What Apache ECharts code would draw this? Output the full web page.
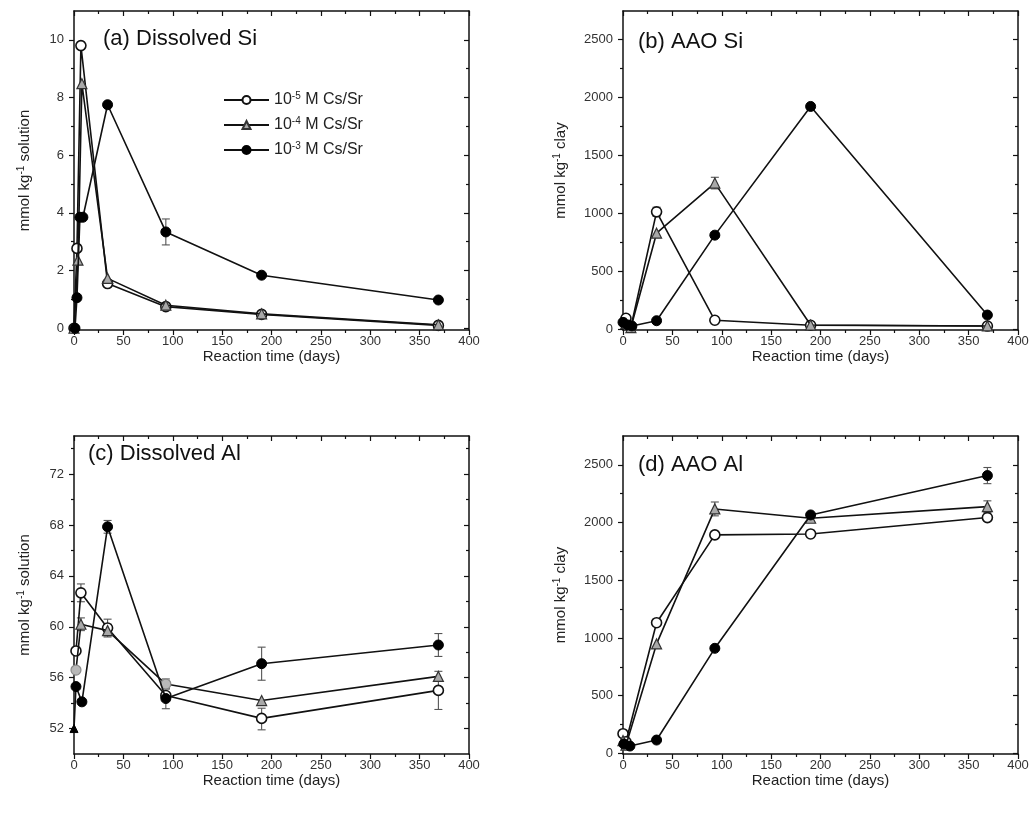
<!DOCTYPE html>
<html>
<head>
<meta charset="utf-8">
<script src="https://cdn.jsdelivr.net/npm/echarts@6/dist/echarts.min.js"></script>
<style>html,body{margin:0;padding:0;background:#fff}#c{width:1032px;height:813px}</style>
</head>
<body>
<div id="c"></div>
<script>
// ---------- data ----------
const seriesNames = ['10-5 M Cs/Sr', '10-4 M Cs/Sr', '10-3 M Cs/Sr'];
const xMajorTicks = [0, 50, 100, 150, 200, 250, 300, 350, 400];
const xMinorTicks = [25, 75, 125, 175, 225, 275, 325, 375];

// (a) Dissolved Si (mmol/kg solution)
const aOpenDays = [0, 3, 7, 34, 93, 190, 369];
const aOpenVals = [0, 2.77, 9.8, 1.55, 0.75, 0.48, 0.1];
const aTriDays = [0, 4, 8, 34, 93, 190, 369];
const aTriVals = [0, 2.36, 8.48, 1.73, 0.8, 0.5, 0.12];
const aFillDays = [1, 3, 6, 9, 34, 93, 190, 369];
const aFillVals = [0, 1.06, 3.85, 3.85, 7.75, 3.34, 1.84, 0.98];
const aErr = [[93, 2.89, 3.79]];
const aYMajor = [0, 2, 4, 6, 8, 10];
const aYMinor = [1, 3, 5, 7, 9];

// (b) AAO Si (mmol/kg clay)
const bOpenDays = [3, 8, 34, 93, 190, 369];
const bOpenVals = [95, 20, 1013, 78, 35, 28];
const bTriDays = [3, 8, 34, 93, 190, 369];
const bTriVals = [50, 15, 829, 1261, 37, 29];
const bFillDays = [0, 5, 9, 34, 93, 190, 369];
const bFillVals = [60, 37, 29, 74, 812, 1922, 123];
const bErr = [[34, 973, 1053], [93, 1211, 1311]];
const clayYMajor = [0, 500, 1000, 1500, 2000, 2500];
const clayYMinor = [250, 750, 1250, 1750, 2250];

// (c) Dissolved Al (mmol/kg solution)
const cOpenDays = [2, 7, 34, 93, 190, 369];
const cOpenVals = [58.1, 62.67, 59.9, 54.6, 52.8, 55.0];
const cTriDays = [2, 7, 34, 93, 190, 369];
const cTriVals = [56.6, 60.2, 59.7, 55.5, 54.2, 56.1];
const cFillDays = [0, 2, 8, 34, 93, 190, 369];
const cFillVals = [52.0, 55.3, 54.1, 67.86, 54.36, 57.1, 58.57];
const cErr = [[7, 61.97, 63.37], [7, 59.7, 60.7], [34, 59.3, 60.6], [34, 59.2, 60.2], [34, 67.36, 68.36],
  [93, 53.56, 55.16], [93, 55.1, 55.9], [190, 55.8, 58.4], [190, 51.9, 53.6], [369, 57.67, 59.47], [369, 53.5, 56.5]];
const cYMajor = [52, 56, 60, 64, 68, 72];
const cYMinor = [54, 58, 62, 66, 70, 74];

// (d) AAO Al (mmol/kg clay)
const dOpenDays = [0, 3, 34, 93, 190, 369];
const dOpenVals = [170, 100, 1132, 1893, 1901, 2043];
const dTriDays = [0, 3, 34, 93, 190, 369];
const dTriVals = [110, 70, 948, 2118, 2037, 2138];
const dFillDays = [1, 7, 34, 93, 190, 369];
const dFillVals = [80, 63, 115, 910, 2066, 2407];
const dErr = [[93, 2058, 2178], [369, 2337, 2477], [369, 2088, 2188]];

// point-specific marker overrides (index into the series arrays above)
const cTriCircleIdx = [0, 3];   // drawn as grey circles in the original
const cFillTriIdx = [0];        // drawn as black triangle in the original

// ---------- layout / style ----------
const FONT = 'Liberation Sans, Arial, sans-serif';
const grids = [
  {left: 74, top: 11, width: 395, height: 319},
  {left: 623, top: 11, width: 395, height: 319},
  {left: 74, top: 436, width: 395, height: 318},
  {left: 623, top: 436, width: 395, height: 318}
];
const yRanges = [[-0.06, 11], [-6, 2745], [50, 75], [-6, 2750]];
const yMajors = [aYMajor, clayYMajor, cYMajor, clayYMajor];
const yMinors = [aYMinor, clayYMinor, cYMinor, clayYMinor];
const yNames = ['{n|mmol kg}{s|-1}{n| solution}', '{n|mmol kg}{s|-1}{n| clay}', '{n|mmol kg}{s|-1}{n| solution}', '{n|mmol kg}{s|-1}{n| clay}'];
const yNameGaps = [40, 53, 40, 53];
const titles = [
  {text: '(a) Dissolved Si', left: 103, top: 28},
  {text: '(b) AAO Si', left: 638, top: 31},
  {text: '(c) Dissolved Al', left: 88, top: 443},
  {text: '(d) AAO Al', left: 638, top: 454}
];

const nameRich = {
  n: {fontSize: 15, fontFamily: FONT, color: '#222', lineHeight: 18},
  s: {fontSize: 10, fontFamily: FONT, color: '#222', verticalAlign: 'top', lineHeight: 18, padding: [0, 0, 6, 0]}
};

const xAxes = [], yAxes = [];
function addAxes(list, gi, min, max, majors, minors, mainPos, mirrorPos, isY, extra) {
  const base = {type: 'value', gridIndex: gi, min: min, max: max, splitLine: {show: false}};
  const mainIdx = list.length;
  list.push(Object.assign({}, base, {
    position: mainPos,
    axisLine: {show: true, onZero: false, lineStyle: {color: '#111', width: 1.5}},
    axisTick: {show: true, inside: false, length: 5, customValues: majors, lineStyle: {color: '#111', width: 1.2}},
    axisLabel: {show: true, customValues: majors, fontSize: 13, color: '#333', fontFamily: FONT,
      margin: isY ? 10 : 5, formatter: function (v) { return String(v); }}
  }, extra || {}));
  list.push(Object.assign({}, base, {
    position: mainPos,
    axisLine: {show: false, onZero: false},
    axisTick: {show: true, inside: false, length: 3, customValues: minors, lineStyle: {color: '#111', width: 1.2}},
    axisLabel: {show: false}
  }));
  list.push(Object.assign({}, base, {
    position: mirrorPos,
    axisLine: {show: true, onZero: false, lineStyle: {color: '#111', width: 1.5}},
    axisTick: {show: true, inside: true, length: 5, customValues: majors, lineStyle: {color: '#111', width: 1.2}},
    axisLabel: {show: false}
  }));
  list.push(Object.assign({}, base, {
    position: mirrorPos,
    axisLine: {show: false, onZero: false},
    axisTick: {show: true, inside: true, length: 3, customValues: minors, lineStyle: {color: '#111', width: 1.2}},
    axisLabel: {show: false}
  }));
  return mainIdx;
}

const mainX = [], mainY = [];
for (let g = 0; g < 4; g++) {
  mainX.push(addAxes(xAxes, g, 0, 400, xMajorTicks, xMinorTicks, 'bottom', 'top', false, {
    name: 'Reaction time (days)', nameLocation: 'middle', nameGap: 16,
    nameTextStyle: {fontSize: 15, color: '#222', fontFamily: FONT}
  }));
  mainY.push(addAxes(yAxes, g, yRanges[g][0], yRanges[g][1], yMajors[g], yMinors[g], 'left', 'right', true, {
    name: yNames[g], nameLocation: 'middle', nameGap: yNameGaps[g], nameRotate: 90,
    nameTextStyle: {rich: nameRich}
  }));
}

const styles = [
  {symbol: 'circle', itemStyle: {color: '#ffffff', borderColor: '#111', borderWidth: 1.6}},
  {symbol: 'triangle', itemStyle: {color: '#a9a9a9', borderColor: '#333', borderWidth: 1.2}},
  {symbol: 'circle', itemStyle: {color: '#000000', borderColor: '#000', borderWidth: 1}}
];

function zip(days, vals) { return days.map((d, i) => [d, vals[i]]); }

function lineSeries(g, k, data) {
  return {
    type: 'line', name: seriesNames[k], xAxisIndex: mainX[g], yAxisIndex: mainY[g],
    data: data, symbol: styles[k].symbol, symbolSize: 10, showAllSymbol: true,
    lineStyle: {color: '#111', width: 1.6}, itemStyle: styles[k].itemStyle,
    emphasis: {disabled: true}, z: 3 + k, clip: false, animation: false
  };
}

function errSeries(g, data) {
  return {
    type: 'custom', xAxisIndex: mainX[g], yAxisIndex: mainY[g], data: data, z: 2, animation: false,
    encode: {x: 0, y: [1, 2]}, silent: true,
    renderItem: function (params, api) {
      const x = api.value(0), lo = api.value(1), hi = api.value(2);
      const p1 = api.coord([x, lo]), p2 = api.coord([x, hi]);
      const w = 4;
      const st = {stroke: '#555', lineWidth: 1.1};
      return {type: 'group', children: [
        {type: 'line', shape: {x1: p1[0], y1: p1[1], x2: p2[0], y2: p2[1]}, style: st},
        {type: 'line', shape: {x1: p1[0] - w, y1: p1[1], x2: p1[0] + w, y2: p1[1]}, style: st},
        {type: 'line', shape: {x1: p2[0] - w, y1: p2[1], x2: p2[0] + w, y2: p2[1]}, style: st}
      ]};
    }
  };
}

const cTriData = zip(cTriDays, cTriVals).map((p, i) => cTriCircleIdx.indexOf(i) >= 0
  ? {value: p, symbol: 'circle', itemStyle: {color: '#b8b8b8', borderColor: '#8a8a8a', borderWidth: 1.2}} : p);
const cFillData = zip(cFillDays, cFillVals).map((p, i) => cFillTriIdx.indexOf(i) >= 0
  ? {value: p, symbol: 'triangle', symbolSize: 8} : p);

const series = [
  errSeries(0, aErr), errSeries(1, bErr), errSeries(2, cErr), errSeries(3, dErr),
  lineSeries(0, 0, zip(aOpenDays, aOpenVals)), lineSeries(0, 1, zip(aTriDays, aTriVals)), lineSeries(0, 2, zip(aFillDays, aFillVals)),
  lineSeries(1, 0, zip(bOpenDays, bOpenVals)), lineSeries(1, 1, zip(bTriDays, bTriVals)), lineSeries(1, 2, zip(bFillDays, bFillVals)),
  lineSeries(2, 0, zip(cOpenDays, cOpenVals)), lineSeries(2, 1, cTriData), lineSeries(2, 2, cFillData),
  lineSeries(3, 0, zip(dOpenDays, dOpenVals)), lineSeries(3, 1, zip(dTriDays, dTriVals)), lineSeries(3, 2, zip(dFillDays, dFillVals))
];

const legendRich = {
  n: {fontSize: 16, fontFamily: FONT, color: '#222', lineHeight: 18},
  s: {fontSize: 10, fontFamily: FONT, color: '#222', verticalAlign: 'top', lineHeight: 18, padding: [0, 0, 7, 0]}
};

const option = {
  backgroundColor: '#fff',
  animation: false,
  title: titles.map(t => ({text: t.text, left: t.left, top: t.top, padding: 0,
    textStyle: {fontSize: 22, fontWeight: 'normal', color: '#111', fontFamily: FONT}})),
  legend: {
    data: seriesNames, orient: 'vertical', left: 223, top: 91, itemWidth: 45, itemHeight: 10, itemGap: 8,
    padding: 0, selectedMode: false,
    formatter: function (name) {
      const p = name.split(' ')[0].replace('10', '');
      return '{n|10}{s|' + p + '}{n| M Cs/Sr}';
    },
    textStyle: {rich: legendRich}
  },
  grid: grids,
  xAxis: xAxes,
  yAxis: yAxes,
  series: series
};

const chart = echarts.init(document.getElementById('c'), null, {renderer: 'canvas'});
chart.setOption(option);
</script>
</body>
</html>
